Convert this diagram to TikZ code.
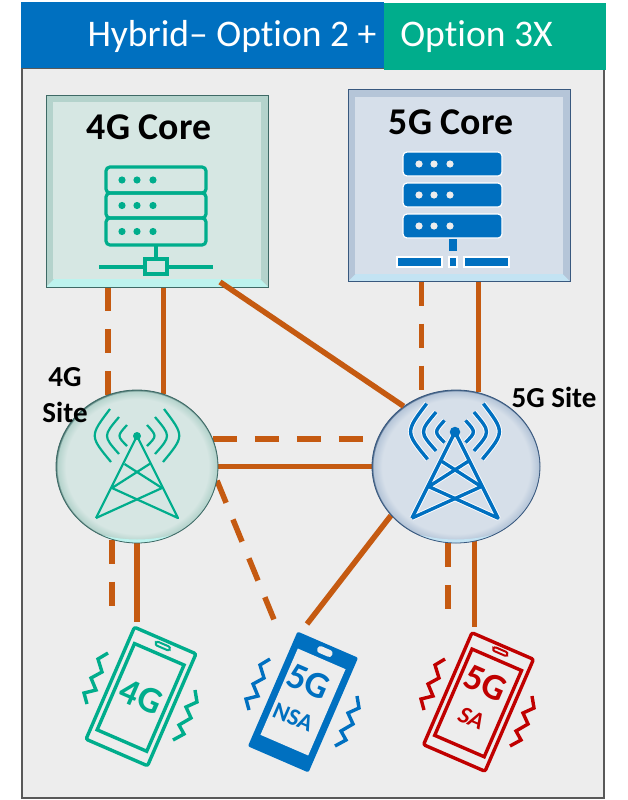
\documentclass[tikz,border=0pt]{standalone}
\usepackage{fontspec}
\setmainfont[Ligatures=NoCommon]{Carlito}
\usetikzlibrary{backgrounds,shapes.geometric}
\definecolor{cBlue}{HTML}{0070C0}
\definecolor{cTeal}{HTML}{00AD8C}
\definecolor{cRed}{HTML}{C00000}
\definecolor{cLink}{HTML}{C55A11}
\definecolor{cPanel}{HTML}{EDEDED}
\definecolor{cFrame}{HTML}{595959}
\definecolor{cFourFace}{HTML}{D6E6E3}
\definecolor{cFourSide}{HTML}{B4D3CC}
\definecolor{cFourGlow}{HTML}{BDF3EE}
\definecolor{cFourEdge}{HTML}{3E6A66}
\definecolor{cFiveFace}{HTML}{D6DFE9}
\definecolor{cFiveSide}{HTML}{B5C5D8}
\definecolor{cFiveGlow}{HTML}{C3E3F3}
\definecolor{cFiveEdge}{HTML}{38587E}
\pgfdeclareradialshading{glassFour}{\pgfpoint{0bp}{0bp}}{color(0bp)=(cFourFace); color(22bp)=(cFourFace); color(24.6bp)=(cFourSide); color(25bp)=(cFourEdge); color(50bp)=(cFourEdge)}
\pgfdeclareradialshading{glassFive}{\pgfpoint{0bp}{0bp}}{color(0bp)=(cFiveFace); color(22bp)=(cFiveFace); color(24.6bp)=(cFiveSide); color(25bp)=(cFiveEdge); color(50bp)=(cFiveEdge)}
\tikzset{
  title/.style={font=\fontsize{37.6}{38}\selectfont,text=white,inner sep=0pt},
  heading/.style={font=\fontsize{37.8}{38}\selectfont\bfseries,inner sep=0pt},
  sitelbl/.style={font=\fontsize{29}{29}\selectfont\bfseries,inner sep=0pt},
  corebox/.style n args={3}{draw=#3,line width=1pt,minimum width=222,minimum height=192,outer sep=0pt,
    path picture={
      \fill[#2] (path picture bounding box.south west) rectangle (path picture bounding box.north east);
      \fill[#1] (path picture bounding box.south west) -- (path picture bounding box.south east)
        -- ++(-8,-8) -- ([shift={(8,-8)}]path picture bounding box.south west) -- cycle;
      \fill[#2!55!white] ([shift={(7,7)}]path picture bounding box.north west)
        rectangle ([shift={(-7,-8)}]path picture bounding box.south east);
    }},
  sitenode/.style n args={3}{ellipse,shade,shading=#1,draw=#3,line width=.8pt,minimum width=162,minimum height=153,inner sep=0pt,
    path picture={\draw[#2,line width=5,line cap=round] (-36,71) .. controls (-12,77) and (12,77) .. (36,71);}},
  link/.style={draw=cLink,line width=5.5pt},
  linkd/.style={link,dash pattern=on 24pt off 18pt},
  phonebox/.style={draw=#1,rounded corners=2pt,line width=3.4pt,minimum width=67,minimum height=122,outer sep=0pt},
  phonescreen/.style={draw=#1,line width=3.4pt,minimum width=54,minimum height=94,outer sep=0pt},
  phonetxt/.style={text=#1,font=\fontsize{37}{37}\selectfont\bfseries,inner sep=0pt},
  phonesub/.style={text=#1,font=\fontsize{24}{24}\selectfont\bfseries,inner sep=0pt},
  shake/.style={draw=#1,line width=3.4pt}}
% wiggle marks either side of a phone
\newcommand{\phoneshake}[2]{
  \draw[shake=#2,shift={#1}] (-33,-43) -- (-43,-37) -- (-39,-24) -- (-50,-18) -- (-45,-6) -- (-57,-3) -- (-54,8);
  \draw[shake=#2,shift={#1}] (54,-6) -- (56,6) -- (45,11) -- (50,22) -- (38,29) -- (43,38) -- (32,44);}
% mast with three arcs each side
\newcommand{\mastarcs}[2]{
  \foreach \sd in {-1,1} {
    \draw[#1,line width=#2,xscale=\sd] (-27,-27) .. controls (-47.5,0) .. (-26,26);
    \draw[#1,line width=#2,xscale=\sd] (-18,-19) .. controls (-34,0) .. (-18,18);
    \draw[#1,line width=#2,xscale=\sd] (-10,-11) .. controls (-20,0) .. (-10,10);}
  \draw[#1,line width=#2,line join=round] (-41,82) -- (0,0) -- (41,82) -- (-25,52) -- (12.5,28);
  \draw[#1,line width=#2,line join=round] (-41,82) -- (25,52) -- (-12.5,28);}

\begin{document}
\begin{tikzpicture}[x=1pt,y=-1pt]
\useasboundingbox (0,0) rectangle (627,800);

\node[corebox={cFourGlow}{cFourSide}{cFourEdge}] (coreFour) at (157,191) {};
\node[corebox={cFiveGlow}{cFiveSide}{cFiveEdge}] (coreFive) at (459,185.5) {};
\node[sitenode={glassFour}{cFourGlow}{cFourEdge}] (siteFour) at (137,466.5) {};
\node[sitenode={glassFive}{cFiveGlow}{cFiveEdge},minimum width=168] (siteFive) at (456,466.5) {};
\coordinate (coreFourOut) at (220,282);
\coordinate (dropFourA) at (0,611);
\coordinate (dropFourB) at (0,622);
\coordinate (dropSaA) at (0,614);
\coordinate (dropSaB) at (0,627);
\coordinate (dropNsaA) at (275,622);
\coordinate (dropNsaB) at (307,624);

% panel, banner and links sit under the cores and sites
\begin{scope}[on background layer]
\fill[white] (0,0) rectangle (627,800);
\node[draw=cFrame,fill=cPanel,line width=2.4pt,minimum width=582,minimum height=730,anchor=north west,outer sep=0pt] (panel) at (22,68) {};
\draw[linkd] (siteFour.112 |- coreFour.south) -- (siteFour.112);
\draw[link] (siteFour.70 |- coreFour.south) -- (siteFour.70);
\draw[linkd] (siteFive.116 |- coreFive.south) -- (siteFive.116);
\draw[link] (siteFive.73.4 |- coreFive.south) -- (siteFive.73.4);
\draw[linkd] (siteFour.20) -- (siteFour.20 -| siteFive.165);
\draw[link] (siteFour.east) -- (siteFive.west);
\draw[linkd] (siteFour.-10) -- (dropNsaA);
\draw[link] (siteFive.-143.5) -- (dropNsaB);
\draw[linkd] (siteFour.-109) -- (siteFour.-109 |- dropFourA);
\draw[link] (siteFour.-90) -- (siteFour.-90 |- dropFourB);
\draw[linkd] (siteFive.-96) -- (siteFive.-96 |- dropSaA);
\draw[link] (siteFive.-76.5) -- (siteFive.-76.5 |- dropSaB);
\end{scope}
\draw[link] (coreFourOut) -- (siteFive.131);

\fill[cBlue] (21,2) rectangle (384,68);
\fill[cTeal] (384,3) rectangle (606,70);
\node[title] (hybrid) at (232,36) {Hybrid– Option 2 +};
\node[title] (three) at (476.5,37) {Option 3X};

% core labels and server stacks
\node[heading] (coreFourLbl) at (149,127) {4G Core};
\node[heading] (coreFiveLbl) at (451,122) {5G Core};
\foreach \ya/\yb in {167/193,193/218,218/245} {
  \draw[cTeal,line width=3.2pt,rounded corners=4pt] (106,\ya) rectangle (206,\yb);
  \foreach \xd in {122,137,153} \fill[cTeal] (\xd,{(\ya+\yb)/2}) circle (3.6);}
\draw[cTeal,line width=3.2pt] (156,245) -- (156,258) (99,267) -- (144,267) (169,267) -- (213,267);
\draw[cTeal,line width=3.2pt] (145,259) rectangle (167,274);
\foreach \ya/\yb in {152/176,183/207,214/238} {
  \draw[white,fill=cBlue,line width=1.2pt,rounded corners=4pt] (403,\ya) rectangle (502,\yb);
  \foreach \xd in {419,434,450} \fill[cPanel] (\xd,{(\ya+\yb)/2}) circle (3.6);}
\fill[cBlue] (449,239) rectangle (457,251);
\foreach \xa/\xb in {397/442,449/457,464/509}
  \draw[white,fill=cBlue,line width=1.2pt] (\xa,257) rectangle (\xb,267);

% masts
\begin{scope}[shift={(137,436)}]
\fill[cTeal] (0,0) circle (4);
\mastarcs{cTeal}{2.2pt}
\end{scope}
\begin{scope}[shift={(455,432)},scale=1.05]
\mastarcs{white}{5.2pt}
\mastarcs{cBlue}{3.4pt}
\fill[cBlue] (0,0) circle (5);
\end{scope}
\node[sitelbl] (siteFourTop) at (65,377) {4G};
\node[sitelbl] (siteFourBot) at (65,412) {Site};
\node[sitelbl] (siteFiveLbl) at (554,397) {5G Site};

% phones
\phoneshake{(141,696)}{cTeal}
\begin{scope}[shift={(141,696.5)},rotate=-23.4,transform shape]
\node[phonebox=cTeal] (phoneFour) at (0,0) {};
\node[phonescreen=cTeal] (screenFour) at (0,1) {};
\draw[cTeal,line width=2pt,rounded corners=2pt] (-7.5,-57) rectangle (7.5,-53);
\node[phonetxt=cTeal] (phoneFourLbl) at (0,0) {4G};
\end{scope}
\phoneshake{(303,702)}{cBlue}
\begin{scope}[shift={(303,702)},rotate=-23.4,transform shape]
\node[fill=cBlue,rounded corners=2pt,minimum width=66,minimum height=125,outer sep=0pt] (phoneNsa) at (0,0) {};
\node[fill=cPanel,minimum width=52,minimum height=94,outer sep=0pt] (screenNsa) at (0,0) {};
\fill[cPanel,rounded corners=3pt] (-8,-58.5) rectangle (8,-51.5);
\node[phonetxt=cBlue] (phoneNsaLbl) at (-3,-21) {5G};
\node[phonesub=cBlue] (phoneNsaSub) at (-3,18) {NSA};
\end{scope}
\phoneshake{(478,702)}{cRed}
\begin{scope}[shift={(478.5,702)},rotate=-23.4,transform shape]
\node[phonebox=cRed] (phoneSa) at (0,0) {};
\node[phonescreen=cRed] (screenSa) at (0,1) {};
\draw[cRed,line width=2pt,rounded corners=2pt] (-7.5,-57) rectangle (7.5,-53);
\node[phonetxt=cRed] (phoneSaLbl) at (-1,-20) {5G};
\node[phonesub=cRed] (phoneSaSub) at (0,18) {\itshape SA};
\end{scope}
\end{tikzpicture}
\end{document}
